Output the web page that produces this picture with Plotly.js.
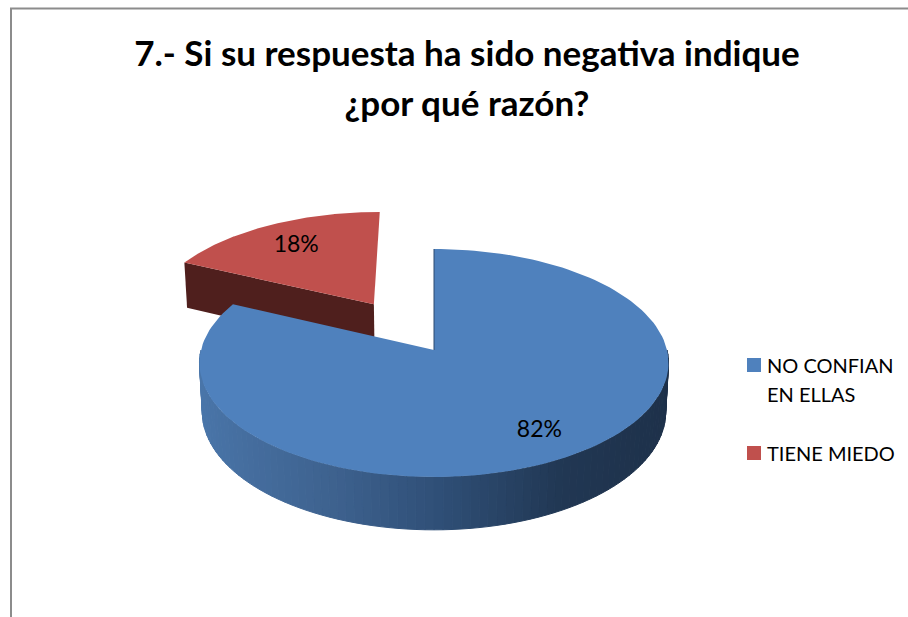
<!DOCTYPE html>
<html>
<head>
<meta charset="utf-8">
<script src="https://cdn.plot.ly/plotly-3.0.1.min.js"></script>
<style>
  html, body { margin: 0; padding: 0; background: #fff; }
  #chart { width: 908px; height: 617px; }
</style>
</head>
<body>
<div id="chart"></div>
<script>
var categories = ["NO CONFIAN<br>EN ELLAS", "TIENE MIEDO"];
var percents = [82, 18];
var explode = [0, 0.505];
var topColors = ["#4f81bd", "#c0504d"];
var titleLines = ["7.- Si su respuesta ha sido negativa indique", "¿por qué razón?"];

// perspective of the pie, in page pixels
var cx = 434, cy = 350, rx = 233, ry = 112.5, persp = 0.114, depth = 49, depthPersp = 0.012;
var sideStops = [[0, [74, 118, 170]], [0.3, [62, 98, 143]], [0.5, [48, 80, 120]], [0.75, [33, 55, 83]], [1, [29, 48, 73]]];
var legendTop = [365, 453], legendLineGap = 29;

function project(u, v, z) {
    var w = 1 + persp * v + depthPersp * z;
    return [cx + rx * u / w, cy - (ry * v - depth * z) / w];
}

function sideColor(u) {
    var t = (u + 1) / 2;
    for (var i = 1; i < sideStops.length; i++) {
        if (t <= sideStops[i][0]) {
            var a = sideStops[i - 1], b = sideStops[i];
            var f = (t - a[0]) / (b[0] - a[0]);
            return "rgb(" + [0, 1, 2].map(function (k) {
                return Math.round(a[1][k] + (b[1][k] - a[1][k]) * f);
            }).join(",") + ")";
        }
    }
    return "rgb(29,48,73)";
}

function poly(points, color, lineColor, width) {
    return {
        x: points.map(function (p) { return p[0]; }),
        y: points.map(function (p) { return p[1]; }),
        mode: "lines", fill: "toself", fillcolor: color,
        line: { color: lineColor || color, width: width || 0 },
        showlegend: false, hoverinfo: "skip"
    };
}

var total = percents.reduce(function (s, v) { return s + v; }, 0);
var sliceStart = [], sliceEnd = [], offU = [], offV = [];
var acc = 0;
percents.forEach(function (v, i) {
    sliceStart.push(acc / total * 2 * Math.PI);
    acc += v;
    sliceEnd.push(acc / total * 2 * Math.PI);
    var mid = (sliceStart[i] + sliceEnd[i]) / 2;
    offU.push(explode[i] * Math.sin(mid));
    offV.push(explode[i] * Math.cos(mid));
});

function rim(i, t, z) {
    return project(offU[i] + Math.sin(t), offV[i] + Math.cos(t), z);
}

function topFace(i) {
    var pts = [project(offU[i], offV[i], 0)];
    for (var s = 0; s <= 160; s++) {
        pts.push(rim(i, sliceStart[i] + (sliceEnd[i] - sliceStart[i]) * s / 160, 0));
    }
    pts.push(pts[0]);
    return poly(pts, topColors[i]);
}

var traces = [];

// red slice first, its cut face shows behind the blue one
traces.push(poly([
    rim(1, sliceStart[1], 0), project(offU[1], offV[1], 0),
    project(offU[1], offV[1], 1), rim(1, sliceStart[1], 1), rim(1, sliceStart[1], 0)
], "#4f1f1d"));
traces.push(topFace(1));

// blue wall, cut in strips for the shading
var strips = 90;
for (var s = 0; s < strips; s++) {
    var t0 = Math.PI / 2 + Math.PI * s / strips;
    var t1 = Math.PI / 2 + Math.PI * (s + 1) / strips;
    traces.push(poly([rim(0, t0, 0), rim(0, t1, 0), rim(0, t1, 1), rim(0, t0, 1), rim(0, t0, 0)],
        sideColor(Math.sin((t0 + t1) / 2)), null, 1));
}
traces.push(topFace(0));

// thin dark edge where the blue slice starts
var edge0 = project(0, 0, 0), edge1 = rim(0, 0, 0);
traces.push({
    x: [edge0[0], edge1[0]], y: [edge0[1], edge1[1]], mode: "lines",
    line: { color: "#2c4a70", width: 1 }, showlegend: false, hoverinfo: "skip"
});

// percent labels
percents.forEach(function (v, i) {
    var mid = (sliceStart[i] + sliceEnd[i]) / 2;
    var p = project(offU[i] + 0.76 * Math.sin(mid), offV[i] + 0.76 * Math.cos(mid), 0);
    traces.push({
        x: [p[0] + 3], y: [p[1] + 3], mode: "text", text: [v + "%"], textposition: "middle center",
        textfont: { family: "Lato, sans-serif", size: 23, color: "#000" },
        showlegend: false, hoverinfo: "skip"
    });
});

// legend: the swatch sits on the first line of a wrapped name, which the built-in legend won't do
var legendShapes = [], legendNotes = [];
categories.forEach(function (c, i) {
    legendShapes.push({
        type: "rect", x0: 747, x1: 761, y0: legendTop[i] - 7, y1: legendTop[i] + 7,
        fillcolor: topColors[i], line: { width: 0 }
    });
    c.split("<br>").forEach(function (line, k) {
        legendNotes.push({
            x: 768, y: legendTop[i] + k * legendLineGap, text: line, showarrow: false,
            xanchor: "left", yanchor: "middle", xshift: -3,
            font: { family: "Lato, sans-serif", size: 20, color: "#000" }
        });
    });
});

var layout = {
    width: 908, height: 617,
    margin: { l: 0, r: 0, t: 0, b: 0, autoexpand: false },
    paper_bgcolor: "#fff", plot_bgcolor: "#fff",
    title: {
        text: titleLines.map(function (l) { return '<span style="font-size:35px">' + l + "</span>"; }).join("<br>"),
        font: { family: "Lato, sans-serif", size: 38.5, color: "#000", weight: 700 },
        x: 467 / 908, xanchor: "center", y: 1 - 66 / 617, yanchor: "middle"
    },
    xaxis: { range: [0, 908], visible: false, fixedrange: true },
    yaxis: { range: [617, 0], visible: false, fixedrange: true },
    showlegend: false,
    annotations: legendNotes,
    shapes: legendShapes.concat([
        { type: "line", x0: 10, x1: 908, y0: 8.5, y1: 8.5, line: { color: "#8c8c8c", width: 2 } },
        { type: "line", x0: 11, x1: 11, y0: 8, y1: 617, line: { color: "#8c8c8c", width: 2 } }
    ])
};

Plotly.newPlot("chart", traces, layout, { displayModeBar: false });
</script>
</body>
</html>
